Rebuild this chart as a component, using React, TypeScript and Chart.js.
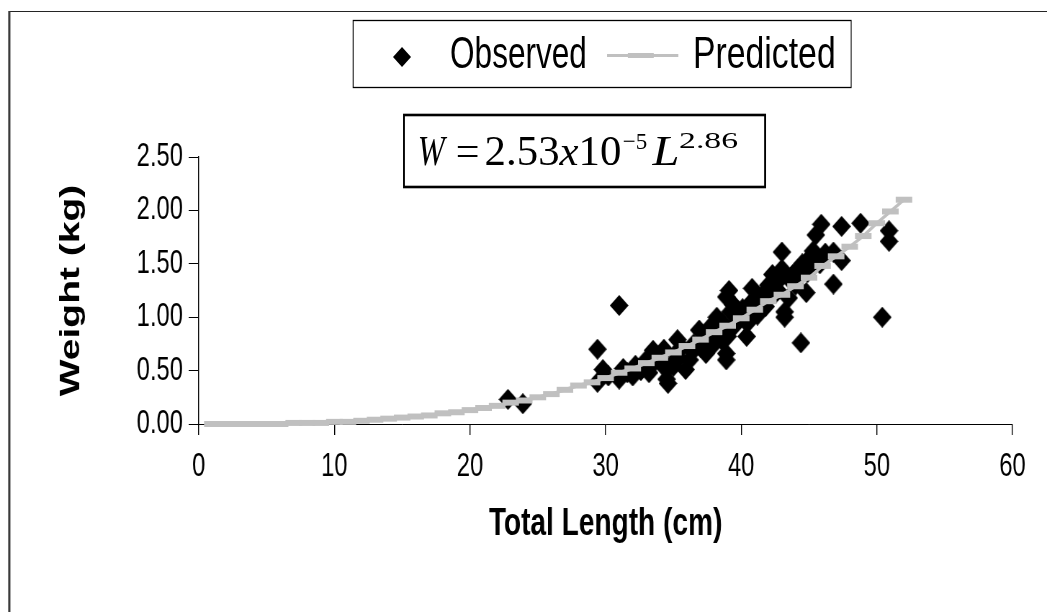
import React, { useEffect, useRef } from "react";
import { Chart, registerables } from "chart.js";

Chart.register(...registerables);

// ---------- data ----------
const obsLength = [
  22.8, 23.9,
  29.4, 29.4, 29.8, 30.2, 31.0, 31.0, 31.3, 31.6, 32.0, 32.2, 32.4, 32.6, 33.0, 33.0, 33.2, 33.5, 33.6, 34.0,
  34.2, 34.3, 34.5, 34.6, 34.8, 35.0, 35.2, 35.3, 35.4, 35.6, 35.9, 36.2, 36.4, 36.5, 36.9, 37.0, 37.2, 37.4,
  37.5, 37.8, 38.0, 38.2, 38.4, 38.6, 38.6, 38.9, 38.9, 38.9, 39.0, 39.1, 39.2, 39.4, 39.5, 39.6, 39.8, 40.1,
  40.2, 40.4, 40.5, 40.6, 40.8, 40.9, 41.2, 41.5, 41.8, 41.9, 42.0, 42.3, 42.5, 42.7, 42.8, 43.0, 43.0, 43.2,
  43.2, 43.5, 43.6, 43.8, 44.0, 44.2, 44.3, 44.5, 44.4, 44.8, 44.9, 45.0, 45.2, 45.3, 45.5, 45.6, 45.9, 45.8,
  46.2, 46.8, 46.8, 47.4, 47.4, 48.8, 50.4, 50.9, 50.9,
];
const obsWeight = [
  0.23, 0.19,
  0.70, 0.39, 0.51, 0.45, 1.11, 0.42, 0.52, 0.48, 0.45, 0.55, 0.52, 0.50, 0.54, 0.60, 0.48, 0.69, 0.58, 0.63,
  0.55, 0.70, 0.42, 0.38, 0.55, 0.54, 0.66, 0.79, 0.62, 0.72, 0.51, 0.60, 0.68, 0.75, 0.88, 0.72, 0.78, 0.66,
  0.80, 0.92, 0.75, 1.00, 0.85, 0.95, 0.78, 0.60, 0.66, 1.19, 0.82, 1.25, 1.05, 1.12, 0.92, 0.95, 1.00, 1.08,
  0.98, 0.82, 0.95, 1.12, 1.27, 1.15, 1.02, 1.20, 1.10, 1.22, 1.30, 1.40, 1.22, 1.25, 1.35, 1.61, 1.45, 1.05,
  1.00, 1.18, 1.35, 1.40, 1.30, 1.45, 1.38, 1.50, 0.76, 1.23, 1.42, 1.55, 1.48, 1.62, 1.77, 1.55, 1.87, 1.50,
  1.60, 1.61, 1.31, 1.85, 1.53, 1.88, 1.00, 1.81, 1.71,
];

const predLength = [
  1, 2, 3, 4, 5, 6, 7, 8, 9, 10, 11, 12, 13, 14, 15, 16, 17, 18, 19, 20, 21, 22, 23, 24, 25, 26,
  27, 28, 29, 30, 31, 32, 33, 34, 35, 36, 37, 38, 39, 40, 41, 42, 43, 44, 45, 46, 47, 48, 49, 50, 51, 52,
];
const predWeight = [
  0.0, 0.0, 0.0, 0.0, 0.0, 0.0, 0.01, 0.01, 0.01, 0.02, 0.02, 0.03, 0.04, 0.05, 0.06, 0.07, 0.08, 0.1,
  0.11, 0.13, 0.15, 0.17, 0.2, 0.22, 0.25, 0.28, 0.32, 0.36, 0.39, 0.43, 0.48, 0.52, 0.57, 0.62, 0.67,
  0.73, 0.79, 0.86, 0.92, 0.99, 1.07, 1.15, 1.21, 1.29, 1.37, 1.48, 1.57, 1.66, 1.76, 1.88, 1.99, 2.1,
];

const xTicks = [0, 10, 20, 30, 40, 50, 60];
const yTicks = [0, 0.5, 1.0, 1.5, 2.0, 2.5];
const seriesNames = ["Observed", "Predicted"];
const xTitle = "Total Length (cm)";
const yTitle = "Weight (kg)";

// ---------- layout ----------
const W = 1454; // drawing width before horizontal squeeze
const H = 612;
const SX = 1047 / W; // horizontal squeeze of the whole figure (~0.72)
const SANS = "'Liberation Sans', Arial, Helvetica, sans-serif";
const SERIF = "'Liberation Serif', 'Times New Roman', serif";

function makeDiamond(): HTMLCanvasElement {
  const c = document.createElement("canvas");
  const w = 26;
  const h = 21;
  c.width = w;
  c.height = h;
  const ctx = c.getContext("2d")!;
  ctx.fillStyle = "#000";
  ctx.beginPath();
  ctx.moveTo(w / 2, 0);
  ctx.lineTo(w, h / 2);
  ctx.lineTo(w / 2, h);
  ctx.lineTo(0, h / 2);
  ctx.closePath();
  ctx.fill();
  return c;
}

export default function App() {
  const ref = useRef<HTMLCanvasElement | null>(null);

  useEffect(() => {
    if (!ref.current) return;
    const diamond = makeDiamond();
    const chart = new Chart(ref.current, {
      type: "scatter",
      data: {
        datasets: [
          {
            label: seriesNames[0],
            data: obsLength.map((x, i) => ({ x, y: obsWeight[i] })),
            pointStyle: diamond as any,
            pointRadius: 10,
            showLine: false,
            clip: false,
            order: 2,
          },
          {
            label: seriesNames[1],
            data: predLength.map((x, i) => ({ x, y: predWeight[i] })),
            showLine: true,
            clip: false,
            borderColor: "#c0c0c0",
            borderWidth: 3.5,
            pointStyle: "line",
            pointRadius: 11.5,
            pointBorderWidth: 6,
            pointBorderColor: "#c0c0c0",
            pointBackgroundColor: "#c0c0c0",
            order: 1,
          },
        ],
      },
      options: {
        responsive: false,
        animation: false,
        events: [],
        layout: { padding: { left: 0, top: 157, right: 48, bottom: 0 } },
        plugins: { legend: { display: false }, tooltip: { enabled: false } },
        scales: {
          x: {
            type: "linear",
            min: 0,
            max: 60,
            afterBuildTicks: (s: any) => {
              s.ticks = xTicks.map((v) => ({ value: v }));
            },
            afterFit: (s: any) => {
              s.height = 188;
            },
            grid: { display: true, drawOnChartArea: false, drawTicks: true, tickLength: 11, color: "#000", lineWidth: 1.4 },
            border: { display: true, color: "#000", width: 1 },
            ticks: {
              color: "#000",
              padding: 12,
              maxRotation: 0,
              autoSkip: false,
              font: { family: SANS, size: 33 },
              callback: (v: any) => String(v),
            },
            title: {
              display: true,
              text: xTitle,
              color: "#000",
              font: { family: SANS, size: 39, weight: "bold" },
              padding: { top: 0, bottom: 64 },
            },
          },
          y: {
            type: "linear",
            min: 0,
            max: 2.5,
            afterBuildTicks: (s: any) => {
              s.ticks = yTicks.map((v) => ({ value: v }));
            },
            afterFit: (s: any) => {
              s.width = 276;
            },
            grid: { display: true, drawOnChartArea: false, drawTicks: true, tickLength: 14, color: "#000", lineWidth: 1 },
            border: { display: true, color: "#000", width: 1.4 },
            ticks: {
              color: "#000",
              padding: 8,
              autoSkip: false,
              font: { family: SANS, size: 33 },
              callback: (v: any) => Number(v).toFixed(2),
            },
            title: {
              display: true,
              text: yTitle,
              color: "#000",
              font: { family: SANS, size: 39, weight: "bold" },
              padding: { top: 76, bottom: 0 },
            },
          },
        },
      },
    });
    return () => chart.destroy();
  }, []);

  return (
    <div
      style={{
        position: "fixed",
        left: 0,
        top: 0,
        width: W,
        height: H,
        transform: `scaleX(${SX})`,
        transformOrigin: "0 0",
        background: "#fff",
        overflow: "hidden",
      }}
    >
      <canvas ref={ref} width={W} height={H} style={{ position: "absolute", left: 0, top: 0, width: W, height: H }} />
      <svg width={W} height={H} style={{ position: "absolute", left: 0, top: 0, pointerEvents: "none" }}>
        {/* outer frame */}
        <line x1={13} y1={11.5} x2={W} y2={11.5} stroke="#000" strokeWidth={1} />
        <line x1={13} y1={11} x2={13} y2={H} stroke="#3a3a3a" strokeWidth={3} />
        {/* legend */}
        <rect x={490.5} y={20.5} width={691.5} height={67} fill="#fff" stroke="#000" strokeWidth={1.3} />
        <polygon points="558.3,47 570.8,57 558.3,67 545.8,57" fill="#000" />
        <text x={625} y={68} fontFamily={SANS} fontSize={44} fill="#000" textLength={190} lengthAdjust="spacingAndGlyphs">
          {seriesNames[0]}
        </text>
        <line x1={843} y1={55.5} x2={942} y2={55.5} stroke="#c0c0c0" strokeWidth={3} />
        <rect x={872} y={53} width={36} height={5} fill="#c0c0c0" />
        <text x={962.5} y={68} fontFamily={SANS} fontSize={44} fill="#000" textLength={198} lengthAdjust="spacingAndGlyphs">
          {seriesNames[1]}
        </text>
        {/* equation */}
        <rect x={561} y={115} width={501.5} height={72} fill="#fff" stroke="#000" strokeWidth={2.6} />
        <text x={580} y={165} fontFamily={SERIF} fontSize={43} fontStyle="italic" textLength={37.5} lengthAdjust="spacingAndGlyphs">
          W
        </text>
        <text x={633} y={165} fontFamily={SERIF} fontSize={43} textLength={33} lengthAdjust="spacingAndGlyphs">
          =
        </text>
        <text x={673} y={165} fontFamily={SERIF} fontSize={43} textLength={190} lengthAdjust="spacingAndGlyphs">
          2.53<tspan fontStyle="italic">x</tspan>10
        </text>
        <text x={865} y={149} fontFamily={SERIF} fontSize={24} textLength={34} lengthAdjust="spacingAndGlyphs">
          −5
        </text>
        <text x={906} y={165} fontFamily={SERIF} fontSize={43} fontStyle="italic" textLength={37.5} lengthAdjust="spacingAndGlyphs">
          L
        </text>
        <text x={943} y={148} fontFamily={SERIF} fontSize={24} textLength={82} lengthAdjust="spacingAndGlyphs">
          2.86
        </text>
      </svg>
    </div>
  );
}
